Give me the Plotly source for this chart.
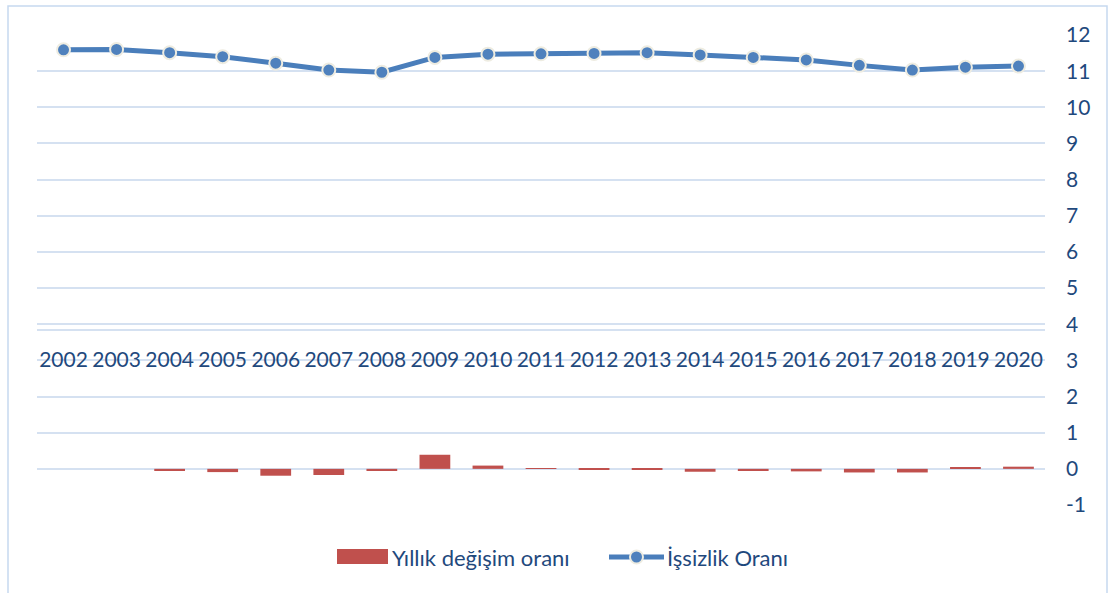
import plotly.graph_objects as go

years = [str(y) for y in range(2002, 2021)]
issizlik = [11.59, 11.60, 11.51, 11.40, 11.22, 11.03, 10.97, 11.38, 11.47, 11.48,
            11.49, 11.51, 11.45, 11.38, 11.31, 11.16, 11.03, 11.11, 11.14]
degisim = [0.0, 0.0, -0.06, -0.09, -0.19, -0.17, -0.06, 0.39, 0.09, 0.01,
           -0.01, -0.01, -0.08, -0.06, -0.07, -0.10, -0.10, 0.03, 0.06]
y_ticks = list(range(-1, 13))
y_tick_text = [str(v) for v in y_ticks]

TXT = "#1F497D"
GRID = "#D5E1F1"
FONT = "Lato"

fig = go.Figure()
fig.add_trace(go.Bar(x=years, y=degisim, name="Yıllık değişim oranı",
                     marker=dict(color="#C0504D", line=dict(width=0)),
                     showlegend=False))
fig.add_trace(go.Scatter(x=years, y=issizlik, name="İşsizlik Oranı", mode="lines+markers",
                         line=dict(color="#4A7EBB", width=5),
                         marker=dict(size=13, color="#4F81BD", line=dict(color="#EEECE1", width=2)),
                         showlegend=False))

# plot area in page px: x 37..1045, y 35..505 (body margin removed)
def px(x):
    return (x - 37) / 1008.0

def py(y):
    return (505 - y) / 470.0

shapes = [
    # chart border
    dict(type="rect", xref="paper", yref="paper", x0=px(8), x1=px(1107), y0=py(620), y1=py(6),
         line=dict(color="#C6D9F0", width=1.5), fillcolor="rgba(0,0,0,0)", layer="below"),
    # legend swatches
    dict(type="rect", xref="paper", yref="paper", x0=px(337), x1=px(388), y0=py(564), y1=py(549),
         line=dict(width=0), fillcolor="#C0504D"),
    dict(type="line", xref="paper", yref="paper", x0=px(609), x1=px(664), y0=py(557), y1=py(557),
         line=dict(color="#4A7EBB", width=5)),
    dict(type="circle", xref="paper", yref="paper", x0=px(630), x1=px(643), y0=py(563.5), y1=py(550.5),
         line=dict(color="#EEECE1", width=2), fillcolor="#4F81BD"),
]

annotations = [
    dict(text="Yıllık değişim oranı", xref="paper", yref="paper", x=px(390), y=py(557),
         xanchor="left", yanchor="middle", showarrow=False, font=dict(family=FONT, size=22, color=TXT)),
    dict(text="İşsizlik Oranı", xref="paper", yref="paper", x=px(665), y=py(557),
         xanchor="left", yanchor="middle", showarrow=False, font=dict(family=FONT, size=22, color=TXT)),
]

fig.update_layout(
    width=1113, height=593,
    margin=dict(l=37, r=68, t=35, b=88),
    paper_bgcolor="white", plot_bgcolor="white",
    bargap=0.42,
    showlegend=False,
    shapes=shapes,
    annotations=annotations,
    font=dict(family=FONT, size=21, color=TXT),
    xaxis=dict(type="category", range=[-0.5, 18.5], anchor="free", position=py(329.5),
               showgrid=False, showline=True, linecolor=GRID, linewidth=2, ticks="",
               tickfont=dict(family=FONT, size=21, color=TXT), ticklabelstandoff=11,
               fixedrange=True),
    yaxis=dict(side="right", range=[-1, 12], tickvals=y_ticks, ticktext=y_tick_text,
               showgrid=True, gridcolor=GRID,
               gridwidth=2, zeroline=False, showline=False, ticks="",
               tickfont=dict(family=FONT, size=21, color=TXT), ticklabelstandoff=20),
)

fig.write_html("out.html",
               config={"displayModeBar": False},
               post_script="document.body.style.margin='0';document.body.style.overflow='hidden';")
